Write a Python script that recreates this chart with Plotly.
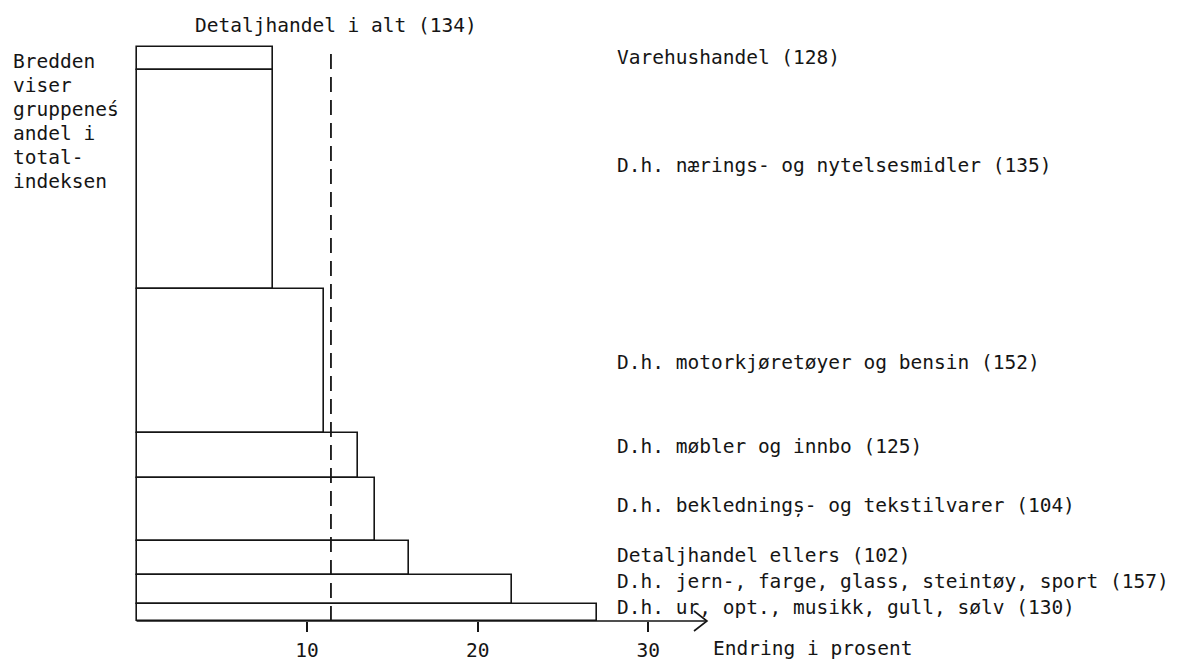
import plotly.graph_objects as go

# ---------------- data (top to bottom) ----------------
categories = [
    "Varehushandel (128)",
    "D.h. nærings- og nytelsesmidler (135)",
    "D.h. motorkjøretøyer og bensin (152)",
    "D.h. møbler og innbo (125)",
    "D.h. bekledningș- og tekstilvarer (104)",
    "Detaljhandel ellers (102)",
    "D.h. jern-, farge, glass, steintøy, sport (157)",
    "D.h. ur, opt., musikk, gull, sølv (130)",
]
change_pct = [8.0, 8.0, 11.0, 13.0, 14.0, 16.0, 22.0, 27.0]   # bar length: Endring i prosent
share_pct = [4.1, 38.0, 25.1, 7.9, 10.9, 6.0, 5.1, 2.9]       # bar width: andel i totalindeksen
total_change = 11.4                                            # Detaljhandel i alt (134)
total_label = "Detaljhandel i alt (134)"
x_ticks = [10, 20, 30]
x_title = "Endring i prosent"
side_note_lines = ["Bredden", "viser", "gruppeneś", "andel i", "total-", "indeksen"]

# ---------------- layout constants ----------------
FIG_W, FIG_H = 1182, 661
X0_PX, Y0_PX = 137.0, 620.7      # pixel position of the origin
SX, SY = 17.03, 5.74             # pixels per unit (x: percent, y: share)
X_MIN, X_MAX = -0.5, 33.45
Y_MAX_PAD = 1.0
FONT = "DejaVu Sans Mono"
FS = 19.5
INK = "#151515"
LABEL_PY = [57.8, 165.5, 362.2, 445.8, 505.5, 555.0, 581.7, 607.5]   # label centre rows (px)
LABEL_PX = 615.0

# bar geometry computed from the shares (stacked from the bottom)
n = len(share_pct)
centers = [0.0] * n
acc = 0.0
for i in range(n - 1, -1, -1):
    centers[i] = acc + share_pct[i] / 2.0
    acc += share_pct[i]
y_top = acc
Y_MAX = y_top + Y_MAX_PAD

plot_left = X0_PX + X_MIN * SX
plot_right = X0_PX + X_MAX * SX
plot_top = Y0_PX - Y_MAX * SY
plot_bottom = Y0_PX
PW = plot_right - plot_left
PH = plot_bottom - plot_top


def paper_x(v):
    return (v - X_MIN) / (X_MAX - X_MIN)


def px_to_paper_x(px):
    return (px - plot_left) / PW


def py_to_paper_y(py):
    return (plot_bottom - py) / PH


fig = go.Figure()
fig.add_trace(go.Bar(
    orientation="h",
    x=change_pct,
    y=centers,
    width=share_pct,
    base=0,
    marker=dict(color="white", line=dict(color=INK, width=1.6)),
    hoverinfo="skip",
    showlegend=False,
))

shapes = [
    # dashed reference line for total retail trade
    dict(type="line", xref="x", yref="y", x0=total_change, x1=total_change,
         y0=0, y1=y_top, line=dict(color=INK, width=1.8, dash="15px,8px"), layer="above"),
    # x axis line from 0 to the arrow tip
    dict(type="line", xref="paper", yref="paper", x0=paper_x(0), x1=paper_x(X_MAX),
         y0=0, y1=0, line=dict(color=INK, width=1.7)),
    # open arrow head at the end of the x axis
    dict(type="path", xref="paper", yref="paper", xsizemode="pixel", ysizemode="pixel",
         xanchor=paper_x(X_MAX), yanchor=0, path="M -13 10 L 0 0 L -13 -10",
         line=dict(color=INK, width=1.6)),
]

txt_font = dict(family=FONT, size=FS, color=INK)
annotations = []
for lab, lpy in zip(categories, LABEL_PY):
    annotations.append(dict(text=lab, x=px_to_paper_x(LABEL_PX), y=py_to_paper_y(lpy),
                            xref="paper", yref="paper", xanchor="left", yanchor="middle",
                            showarrow=False, font=txt_font))
annotations.append(dict(text=total_label, x=paper_x(total_change), y=py_to_paper_y(25),
                        xref="paper", yref="paper", xanchor="center", yanchor="middle",
                        xshift=5, showarrow=False, font=txt_font))
for i, line in enumerate(side_note_lines):
    annotations.append(dict(text=line, x=px_to_paper_x(12.0), y=py_to_paper_y(61.5 + 24.0 * i),
                            xref="paper", yref="paper", xanchor="left", yanchor="middle",
                            showarrow=False, font=txt_font))
annotations.append(dict(text=x_title, x=paper_x(X_MAX), y=py_to_paper_y(648.0),
                        xref="paper", yref="paper", xanchor="left", yanchor="middle",
                        xshift=4, showarrow=False, font=txt_font))

fig.update_layout(
    width=FIG_W, height=FIG_H, autosize=False,
    margin=dict(l=plot_left, r=FIG_W - plot_right, t=plot_top, b=FIG_H - plot_bottom, pad=0),
    paper_bgcolor="white", plot_bgcolor="white",
    shapes=shapes, annotations=annotations,
    bargap=0,
    xaxis=dict(range=[X_MIN, X_MAX], tickvals=x_ticks, ticktext=[str(t) for t in x_ticks],
               showgrid=False, zeroline=False, showline=False, automargin=False,
               ticks="outside", ticklen=10, tickwidth=1.6, tickcolor=INK,
               ticklabelstandoff=2,
               tickfont=txt_font, fixedrange=True),
    yaxis=dict(range=[0, Y_MAX], showgrid=False, zeroline=False, showline=False,
               showticklabels=False, ticks="", automargin=False, fixedrange=True),
)

fig.write_html("out.html", config={"displayModeBar": False},
               post_script="document.body.style.margin='0px';document.body.style.overflow='hidden';")
